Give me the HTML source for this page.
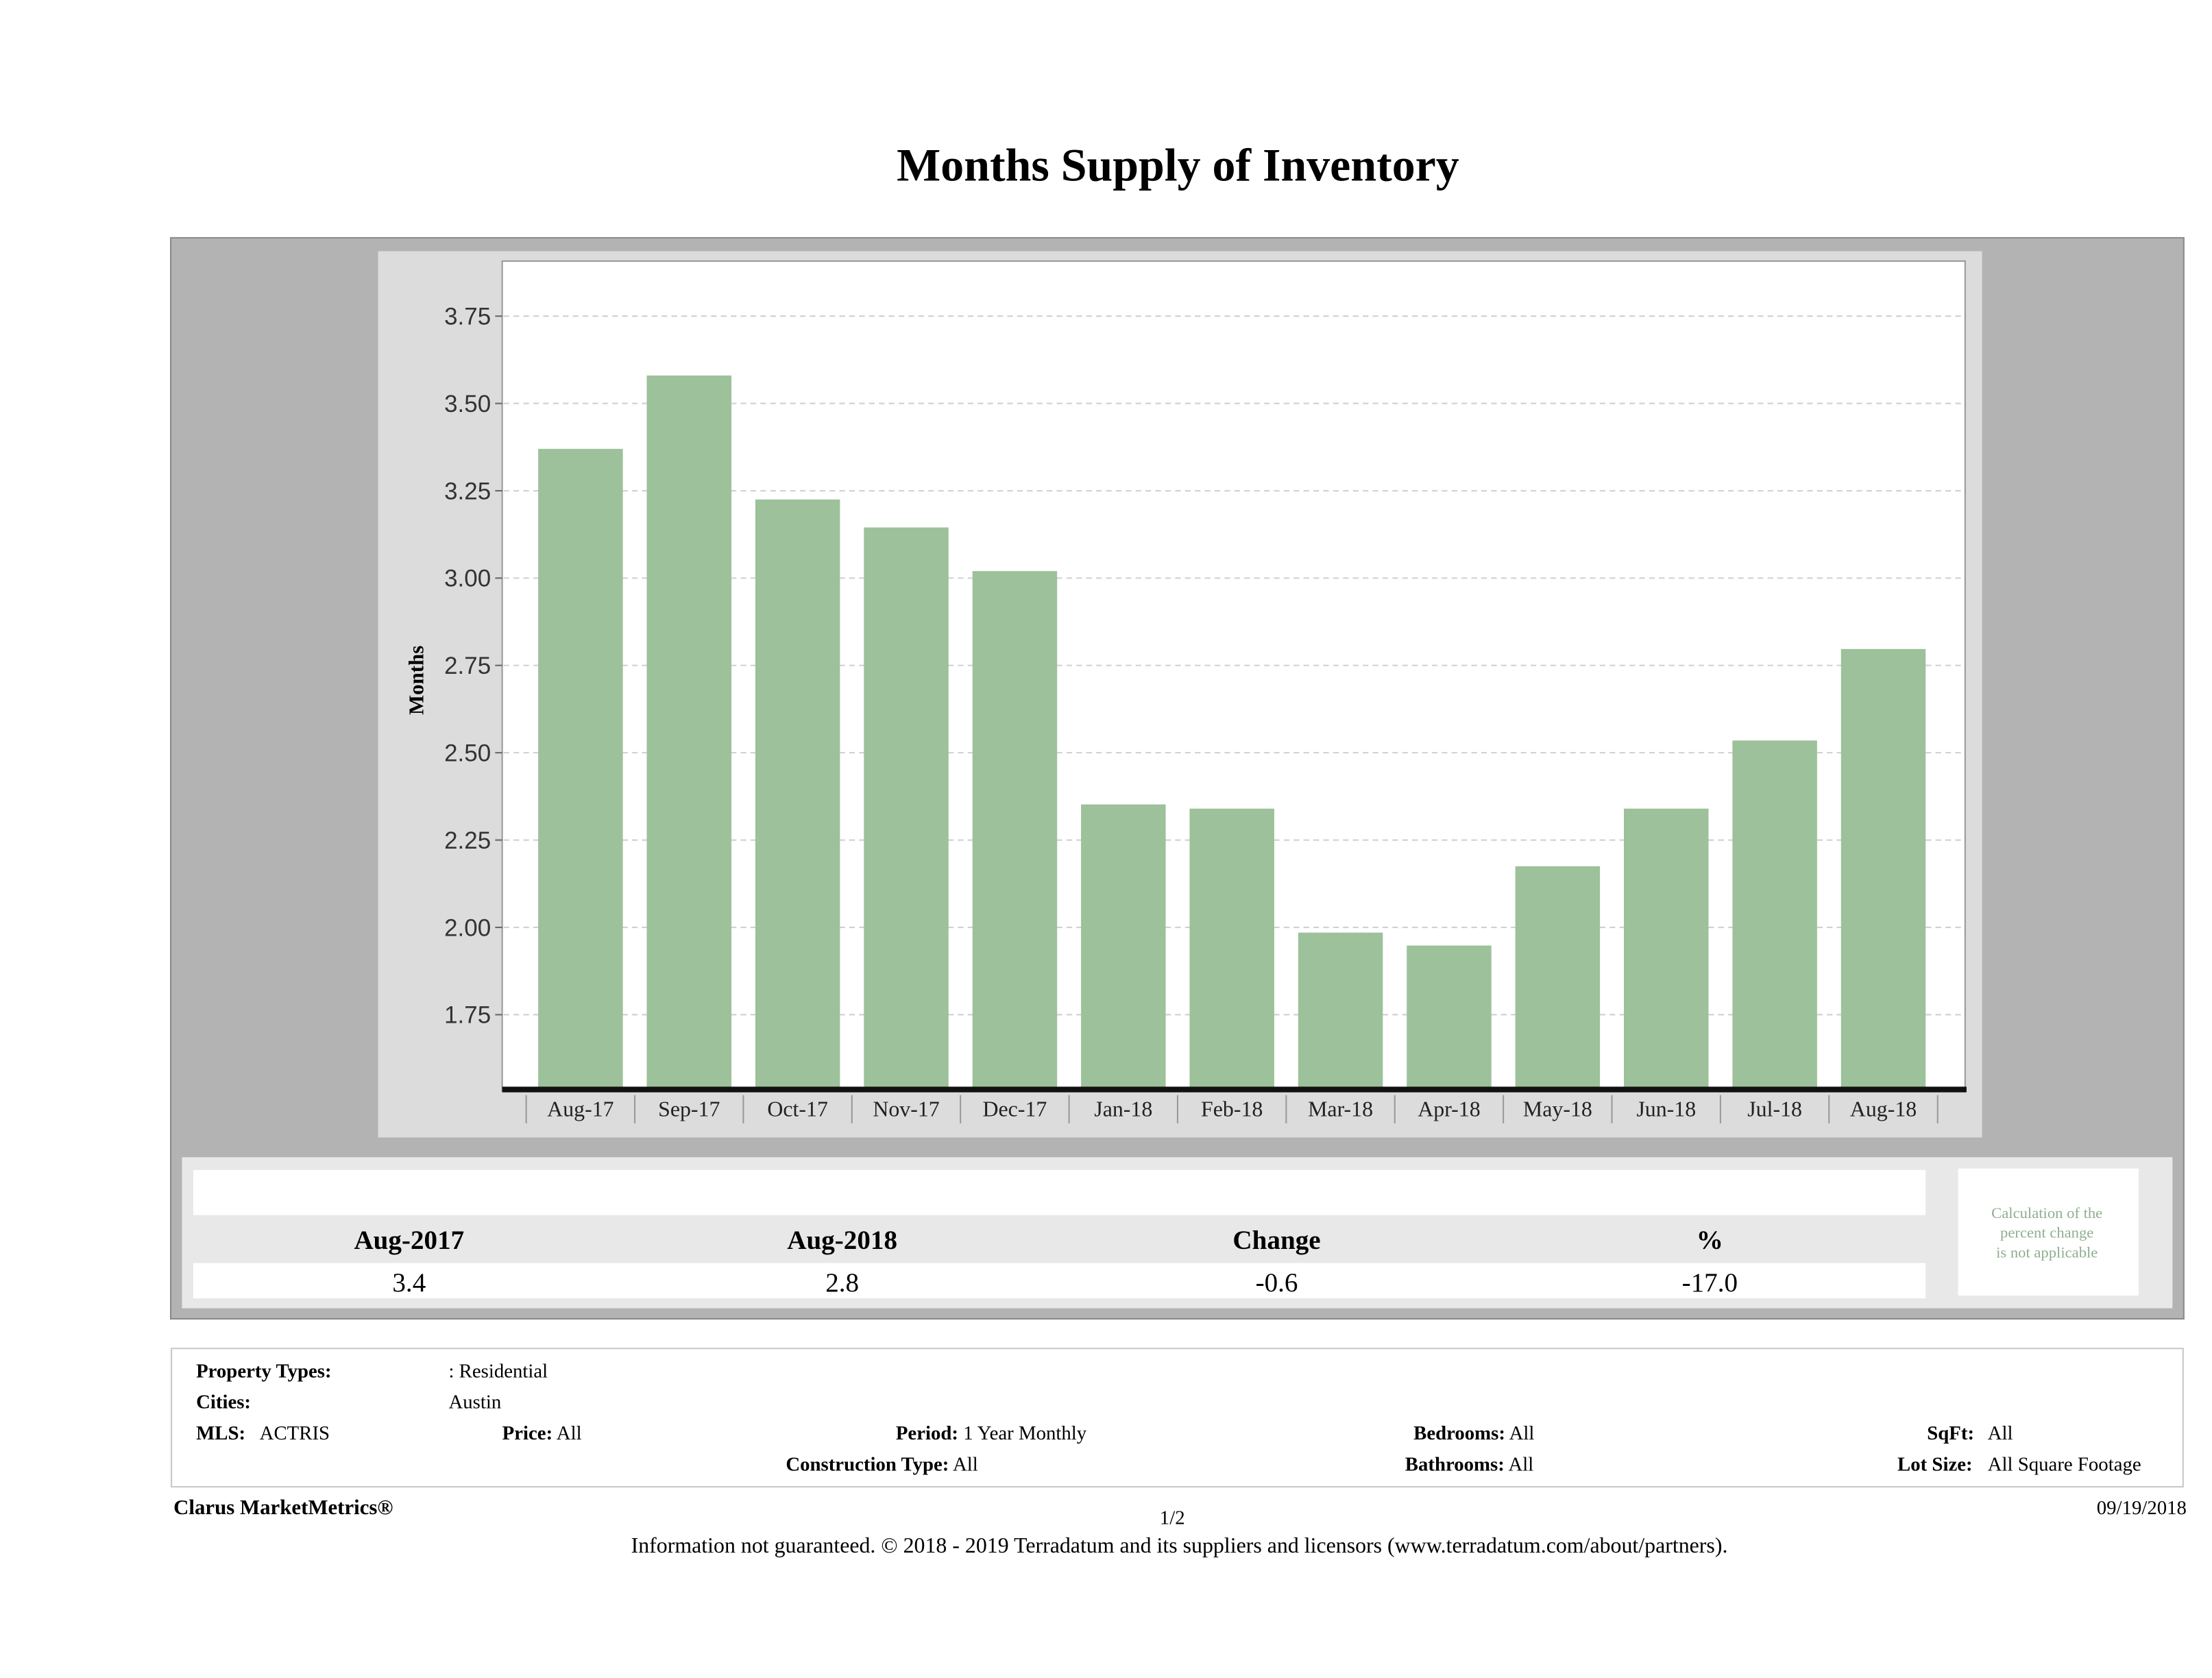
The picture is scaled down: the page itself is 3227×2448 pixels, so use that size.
<!DOCTYPE html>
<html><head><meta charset="utf-8"><style>
html,body{margin:0;padding:0;background:#fff;}
svg{display:block;}
text{font-family:"Liberation Serif",serif;}
</style></head><body>
<svg id="page" width="3227" height="2448" viewBox="0 0 1568 1189" preserveAspectRatio="none">
<text x="835" y="128" text-anchor="middle" font-size="33" font-weight="bold">Months Supply of Inventory</text>
<rect x="121" y="168.5" width="1427" height="766" fill="#b3b3b3" stroke="#8a8a8a"/>
<rect x="268" y="178" width="1137" height="628" fill="#dcdcdc"/>
<rect x="356" y="185" width="1037" height="588" fill="#fff" stroke="#999"/>
<g id="grid"></g>
<g id="bars"></g>
<g id="xaxis"></g>
<text transform="translate(300,482) rotate(-90)" text-anchor="middle" font-size="15" font-weight="bold">Months</text>

<rect x="129" y="820" width="1411" height="107" fill="#e8e8e8"/>
<rect x="137" y="829" width="1228" height="32" fill="#fff"/>
<rect x="137" y="895" width="1228" height="25" fill="#fff"/>
<g font-size="19" font-weight="bold" text-anchor="middle">
<text x="290" y="885">Aug-2017</text>
<text x="597" y="885">Aug-2018</text>
<text x="905" y="885">Change</text>
<text x="1212" y="885">%</text>
</g>
<g font-size="19" text-anchor="middle">
<text x="290" y="915">3.4</text>
<text x="597" y="915">2.8</text>
<text x="905" y="915">-0.6</text>
<text x="1212" y="915">-17.0</text>
</g>
<rect x="1388" y="828" width="128" height="90" fill="#fff"/>
<g font-size="11" fill="#8fae8f" text-anchor="middle">
<text x="1451" y="863">Calculation of the</text>
<text x="1451" y="877">percent change</text>
<text x="1451" y="891">is not applicable</text>
</g>

<rect x="121.5" y="955.5" width="1426" height="98" fill="#fff" stroke="#c8c8c8"/>
<g font-size="14">
<text x="139" y="976" font-weight="bold">Property Types:</text>
<text x="318" y="976">: Residential</text>
<text x="139" y="998" font-weight="bold">Cities:</text>
<text x="318" y="998">Austin</text>
<text x="139" y="1020"><tspan font-weight="bold">MLS:</tspan><tspan x="184">ACTRIS</tspan></text>
<text x="356" y="1020"><tspan font-weight="bold">Price:</tspan> All</text>
<text x="635" y="1020"><tspan font-weight="bold">Period:</tspan> 1 Year Monthly</text>
<text x="557" y="1042"><tspan font-weight="bold">Construction Type:</tspan> All</text>
<text x="1002" y="1020"><tspan font-weight="bold">Bedrooms:</tspan> All</text>
<text x="996" y="1042"><tspan font-weight="bold">Bathrooms:</tspan> All</text>
<text x="1366" y="1020"><tspan font-weight="bold">SqFt:</tspan><tspan x="1409">All</tspan></text>
<text x="1345" y="1042"><tspan font-weight="bold">Lot Size:</tspan><tspan x="1409">All Square Footage</tspan></text>
</g>
<text x="123" y="1073" font-size="15" font-weight="bold">Clarus MarketMetrics®</text>
<text x="831" y="1080" font-size="14" text-anchor="middle">1/2</text>
<text x="1550" y="1073" font-size="14" text-anchor="end">09/19/2018</text>
<text x="836" y="1100" font-size="15.5" text-anchor="middle">Information not guaranteed. © 2018 - 2019 Terradatum and its suppliers and licensors (www.terradatum.com/about/partners).</text>
</svg>
<script>
const categories = ["Aug-17","Sep-17","Oct-17","Nov-17","Dec-17","Jan-18","Feb-18","Mar-18","Apr-18","May-18","Jun-18","Jul-18","Aug-18"];
const values = [3.37,3.58,3.225,3.145,3.02,2.352,2.34,1.985,1.948,2.175,2.34,2.535,2.797];
const yTicks = [1.75,2.00,2.25,2.50,2.75,3.00,3.25,3.50,3.75];
const NS="http://www.w3.org/2000/svg";
function y(v){return 719-(v-1.75)*247.5;}
function xc(i){return 411.5+i*76.96;}
const grid=document.getElementById('grid'),bars=document.getElementById('bars'),xa=document.getElementById('xaxis');
function mk(tag,attrs,parent){const e=document.createElementNS(NS,tag);for(const k in attrs)e.setAttribute(k,attrs[k]);parent.appendChild(e);return e;}
yTicks.forEach(t=>{
  const g=mk('line',{x1:357,x2:1392,y1:y(t),y2:y(t),stroke:'#d0d0d0','stroke-dasharray':'4,3'},grid);
  
  
  mk('line',{x1:351,x2:356,y1:y(t),y2:y(t),stroke:'#666'},grid);
  const tx=mk('text',{x:348,y:y(t)+6,'text-anchor':'end','font-size':'17',fill:'#333',style:'font-family:"Liberation Sans",sans-serif'},grid);
  tx.textContent=t.toFixed(2);
  
  
});
const base=772;
values.forEach((v,i)=>{
  const r=mk('rect',{x:xc(i)-30,y:y(v),width:60,height:base-y(v),fill:'#9dc19a'},bars);
  
  
});
mk('rect',{x:356,y:770,width:1038,height:4,fill:'#111'},xa);
categories.forEach((c,i)=>{
  mk('line',{x1:xc(i)-38.5,x2:xc(i)-38.5,y1:776,y2:796,stroke:'#999'},xa);
  const tx=mk('text',{x:xc(i),y:791,'text-anchor':'middle','font-size':'15.5',fill:'#222'},xa);
  tx.textContent=c;
  
  
});
mk('line',{x1:xc(12)+38.5,x2:xc(12)+38.5,y1:776,y2:796,stroke:'#999'},xa);
</script>
</body></html>
